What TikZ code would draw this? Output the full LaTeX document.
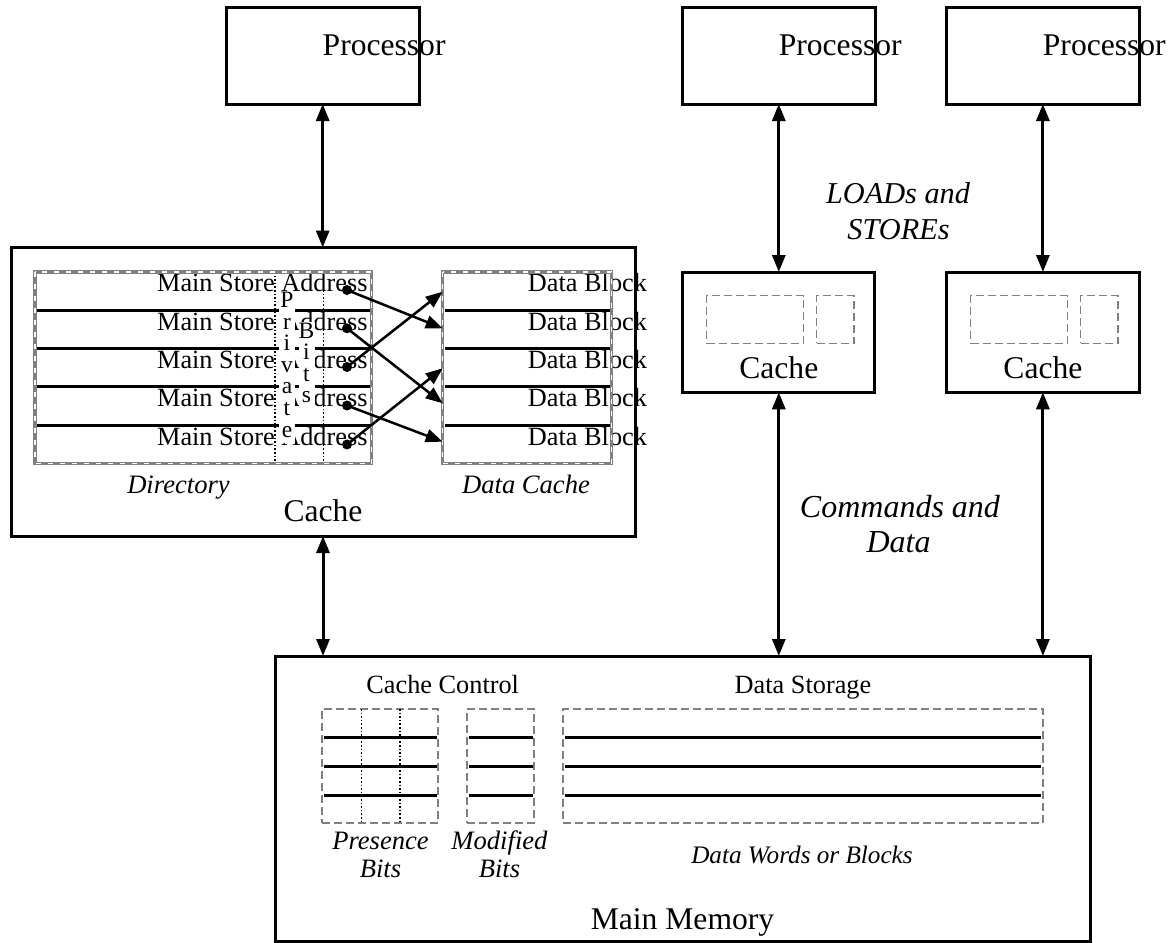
\documentclass[tikz,border=0pt]{standalone}
\usepackage{fontspec}
\setmainfont{Liberation Serif}
\usetikzlibrary{arrows.meta}
\definecolor{dashgray}{RGB}{128,128,128}
\newcommand\sz[1]{\fontsize{#1}{#1}\selectfont}
\tikzset{
  box/.style={draw, line width=3pt, inner sep=0pt, outer sep=0pt},
  area/.style={inner sep=0pt, outer sep=0pt},
  slot/.style={draw=dashgray, line width=1.5pt, dash pattern=on 8pt off 4pt, inner sep=0pt, outer sep=0pt},
  frameline/.style={draw=dashgray, line width=3.4pt},
  framedash/.style={draw=white, line width=1.3pt, dash pattern=on 5pt off 7pt},
  rowline/.style={line width=3pt},
  dotline/.style={line width=1.2pt, dash pattern=on 1.6pt off 2pt},
  twoway/.style={line width=3pt, {Triangle[length=17pt,width=13pt]}-{Triangle[length=17pt,width=13pt]}},
  link/.style={line width=2.5pt, -{Triangle[length=17pt,width=13pt]}},
  dot/.style={circle, fill, inner sep=0pt, minimum size=10pt},
  txt/.style={inner sep=0pt, outer sep=0pt},
  big/.style={txt, font=\sz{31.6}},
  mid/.style={txt, font=\sz{26.3}},
  note/.style={txt, font=\sz{26.6}\itshape},
  letter/.style={fill=white, inner sep=0pt, outer sep=0pt, minimum width=16pt,
                 text height=16pt, text depth=6pt, font=\sz{23.5}, anchor=base}
}
\begin{document}
\begin{tikzpicture}[x=1pt,y=-1pt]
\useasboundingbox (0,0) rectangle (1171,943);

% ---------- processors ----------
\node[box, minimum width=193pt, minimum height=96.5pt] (p1) at (322.7,55.75) {};
\node[box, minimum width=193pt, minimum height=96.5pt] (p2) at (778.8,55.75) {};
\node[box, minimum width=193pt, minimum height=96.5pt] (p3) at (1042.9,55.75) {};
\node[big, anchor=base west] (p1t) at (322.7,55) {Processor};
\node[big, anchor=base west] (p2t) at (778.8,55) {Processor};
\node[big, anchor=base west] (p3t) at (1042.9,55) {Processor};

% ---------- small caches ----------
\node[box, minimum width=192.3pt, minimum height=120.3pt] (c2) at (778.8,332.15) {};
\node[box, minimum width=192.3pt, minimum height=120.3pt] (c3) at (1042.9,332.15) {};
\node[slot, minimum width=96.6pt, minimum height=47.6pt] (c2a) at (755,319.5) {};
\node[slot, minimum width=37.3pt, minimum height=47.6pt] (c2b) at (835.35,319.5) {};
\node[slot, minimum width=96.6pt, minimum height=47.6pt] (c3a) at (1019,319.5) {};
\node[slot, minimum width=37.3pt, minimum height=47.6pt] (c3b) at (1099.35,319.5) {};
\node[big, anchor=base] (c2t) at (778.8,378.3) {Cache};
\node[big, anchor=base] (c3t) at (1042.9,378.3) {Cache};

% ---------- detailed cache ----------
\node[box, minimum width=624pt, minimum height=288.5pt] (lc) at (323,391.75) {};
\node[area, minimum width=336.7pt, minimum height=191.5pt] (dir) at (203.35,367.75) {};
\node[area, minimum width=169pt, minimum height=191.5pt] (dc) at (527.2,367.75) {};

% rows of the directory and of the data cache
\foreach \yy in {310.3,348.6,386.9,425.2} {
  \draw[rowline] (36.7,\yy) -- (370,\yy);
  \draw[rowline] (445,\yy) -- (610,\yy);
}
\draw[dotline] (275,272) -- (275,463.5);
\draw[dotline] (323.3,272) -- (323.3,463.5);

% entries
\foreach \bl [count=\k] in {291.7,330,368.3,406.7,445} {
  \node[mid, anchor=base east] (ms\k) at (367.5,\bl) {Main Store Address};
  \node[mid, anchor=base east] (db\k) at (647,\bl) {Data Block};
}

% vertical column heading
\foreach \ch [count=\k] in {P,r,i,v,a,t,e}
  \node[letter] (pv\k) at (287,{307.5+21.6*(\k-1)}) {\ch};
\foreach \ch [count=\k] in {B,i,t,s}
  \node[letter] (bt\k) at (306.5,{338+21.6*(\k-1)}) {\ch};

% borders of the two arrays
\draw[frameline] (dir.north west) rectangle (dir.south east);
\draw[framedash] (dir.north west) rectangle (dir.south east);
\draw[frameline] (dc.north west) rectangle (dc.south east);
\draw[framedash] (dc.north west) rectangle (dc.south east);

% pointers from directory entries to data blocks
\node[dot] (d1) at (347,290) {};
\node[dot] (d2) at (347,328.3) {};
\node[dot] (d3) at (347,367) {};
\node[dot] (d4) at (347,405.5) {};
\node[dot] (d5) at (347,444.5) {};
\coordinate (e1) at (442.7,291.7);
\coordinate (e2) at (442.7,328.3);
\coordinate (e3) at (442.7,368.3);
\coordinate (e4) at (442.7,403.3);
\coordinate (e5) at (442.7,441.7);
\draw[link] (d1.center) -- (e2);
\draw[link] (d2.center) -- (e4);
\draw[link] (d3.center) -- (e1);
\draw[link] (d4.center) -- (e5);
\draw[link] (d5.center) -- (e3);

\node[note, anchor=base] (dirt) at (178.5,493) {Directory};
\node[note, anchor=base] (dct) at (526,493) {Data Cache};
\node[big, anchor=base] (lct) at (323,521.7) {Cache};

% ---------- main memory ----------
\node[box, minimum width=815pt, minimum height=285.5pt] (mm) at (682.5,798.75) {};
\node[slot, minimum width=116pt, minimum height=114pt] (pb) at (380,766) {};
\node[slot, minimum width=67pt, minimum height=114pt] (mb) at (500.5,766) {};
\node[slot, minimum width=479.8pt, minimum height=114pt] (ds) at (802.9,766) {};
\foreach \yy in {737.7,766,795} {
  \draw[rowline] (324.3,\yy) -- (436.7,\yy);
  \draw[rowline] (469,\yy) -- (532.7,\yy);
  \draw[rowline] (565,\yy) -- (1041,\yy);
}
\draw[dotline] (361.7,709) -- (361.7,823);
\draw[dotline] (400,709) -- (400,823);

\node[mid, anchor=base] (cct) at (442.7,693.3) {Cache Control};
\node[mid, anchor=base] (dst) at (803,693.3) {Data Storage};
\node[note, anchor=base] (pbt1) at (380.5,849) {Presence};
\node[note, anchor=base] (pbt2) at (380.5,877.3) {Bits};
\node[note, anchor=base] (mbt1) at (499.5,849) {Modified};
\node[note, anchor=base] (mbt2) at (499.5,877.3) {Bits};
\node[txt, font=\sz{25.2}\itshape, anchor=base] (dwt) at (802,863.3) {Data Words or Blocks};
\node[big, anchor=base] (mmt) at (682.5,929.3) {Main Memory};

% ---------- connections ----------
\draw[twoway] (p1.south) -- (p1.south |- lc.north);
\draw[twoway] (lc.south) -- (lc.south |- mm.north);
\draw[twoway] (p2.south) -- (c2.north);
\draw[twoway] (p3.south) -- (c3.north);
\draw[twoway] (c2.south) -- (c2.south |- mm.north);
\draw[twoway] (c3.south) -- (c3.south |- mm.north);

\node[txt, font=\sz{30.3}\itshape, anchor=base] (ls1) at (898,203.3) {LOADs and};
\node[txt, font=\sz{30.3}\itshape, anchor=base] (ls2) at (898.5,239.3) {STOREs};
\node[txt, font=\sz{32}\itshape, anchor=base] (cd1) at (900,517.3) {Commands and};
\node[txt, font=\sz{32}\itshape, anchor=base] (cd2) at (898.6,552.7) {Data};
\end{tikzpicture}
\end{document}
